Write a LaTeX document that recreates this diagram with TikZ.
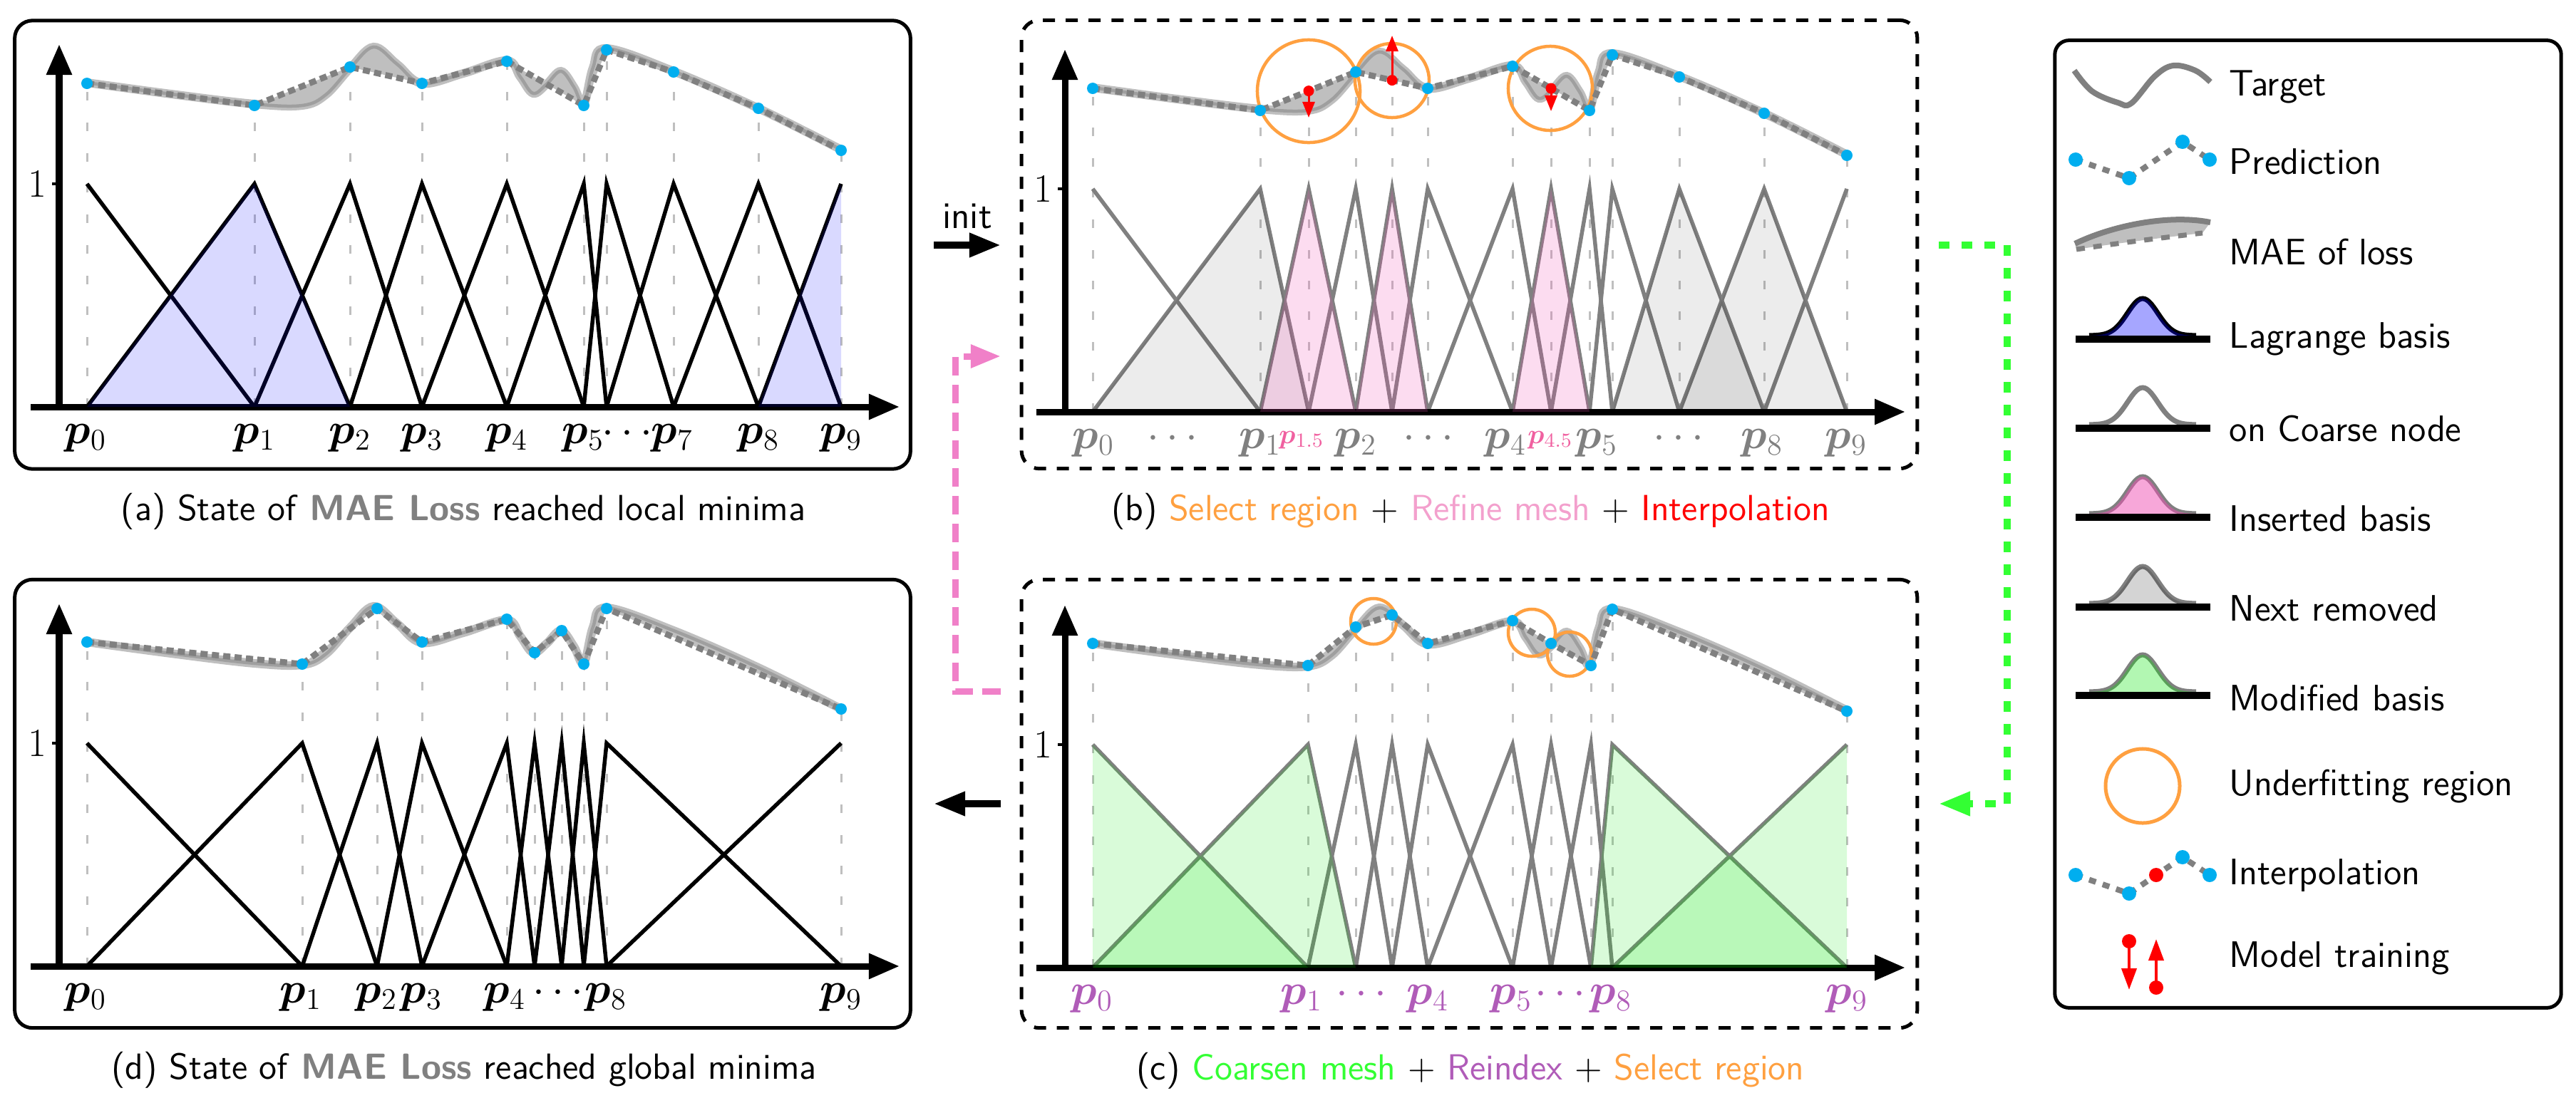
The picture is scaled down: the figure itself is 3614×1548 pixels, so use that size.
\documentclass[tikz,border=0pt]{standalone}
\usepackage{fontspec}
\usepackage{bm}
\usetikzlibrary{arrows.meta}
\definecolor{dotblue}{RGB}{0,174,239}
\definecolor{uorange}{RGB}{255,160,64}
\definecolor{rpink}{RGB}{243,160,205}
\definecolor{lpink}{RGB}{240,96,160}
\definecolor{ugreen}{RGB}{51,255,51}
\definecolor{upurple}{RGB}{176,92,184}
\definecolor{apink}{RGB}{240,128,200}
\definecolor{fpink}{RGB}{240,80,180}
\definecolor{fgreen}{RGB}{0,230,0}
\newcommand{\tgtpath}{plot[smooth,tension=0.6] coordinates {(122,116) (240,132) (357,146) (424,148) (457,133) (491,96) (524,66) (557,90) (592,117) (650,103) (711,85) (730,108) (748,131) (767,118) (787,100) (805,122) (819,146) (832,95) (851,68) (945,100) (1064,152) (1180,210)}}
\newcommand{\legbump}[1]{plot[domain=-75:75,samples=51] ({3006+\x},{#1-52*exp(-1*(\x/30)*(\x/30))})}
\newcommand{\paneaxes}[1]{%
  \draw[axisline] (43,571) -- (1262,571);
  \draw[axisline] (83,575) -- (83,62);
  \draw[line width=0.04cm] (73,258) -- (83,258);
  \node[font=\fontsize{16}{19}\selectfont, inner sep=0pt] (#1one) at (52,258) {1};
}
\tikzset{
  pbox/.style={draw=black, line width=0.05cm, rounded corners=0.25cm, minimum width=12.56cm, minimum height=6.29cm, inner sep=0pt},
  dbox/.style={pbox, dash pattern=on 0.17cm off 0.15cm},
  axisline/.style={line width=0.09cm, -{Triangle[length=0.43cm,width=0.34cm]}},
  vguide/.style={gray!50, line width=0.03cm, dash pattern=on 0.12cm off 0.31cm},
  tgthalo/.style={gray!50, line width=0.12cm},
  tgtcore/.style={gray!75, line width=0.045cm},
  band/.style={gray!50},
  pred/.style={gray, line width=0.085cm, dash pattern=on 0.1cm off 0.06cm},
  hatA/.style={black, line width=0.055cm},
  hatG/.style={gray, line width=0.055cm},
  train/.style={red, line width=0.03cm, -{Triangle[length=0.22cm,width=0.17cm]}},
  region/.style={uorange, line width=0.045cm},
  plabel/.style={anchor=base, inner sep=0pt, font=\fontsize{16.5}{20}\selectfont},
  captext/.style={anchor=base, inner sep=0pt, font=\sffamily\fontsize{14.5}{17}\selectfont},
  legtext/.style={anchor=base west, inner sep=0pt, font=\sffamily\fontsize{14.7}{18}\selectfont},
  flow/.style={line width=0.1cm, -{Triangle[length=0.44cm,width=0.32cm]}},
}
\begin{document}
\begin{tikzpicture}[x=0.01cm, y=-0.01cm]
\useasboundingbox (0,0) rectangle (3614,1548);

% ================= panel boxes =================
\node[pbox] (boxA) at (649,343.5) {};
\node[dbox] (boxB) at (2061.5,343) {};
\node[dbox] (boxC) at (2061.5,1128) {};
\node[pbox] (boxD) at (649,1128) {};
\node[pbox, minimum width=7.10cm, minimum height=13.57cm, rounded corners=0.2cm] (legend) at (3238,735.5) {};

% ================= panel (a) =================
\begin{scope}
  \foreach \x/\y in {122/117,357/148,491/94,592/117,711/86,819/148,851/70,945/101,1064/152,1180/211}
    {\draw[vguide] (\x,571) -- (\x,\y);}
  \fill[band] \tgtpath -- (1180,211) -- (1064,152) -- (945,101) -- (851,70) -- (819,148) -- (711,86) -- (592,117) -- (491,94) -- (357,148) -- (122,117) -- cycle;
  \draw[tgthalo] \tgtpath;
  \draw[tgtcore] \tgtpath;
  \draw[pred] (122,117) -- (357,148) -- (491,94) -- (592,117) -- (711,86) -- (819,148) -- (851,70) -- (945,101) -- (1064,152) -- (1180,211);
  \foreach \x/\y in {122/117,357/148,491/94,592/117,711/86,819/148,851/70,945/101,1064/152,1180/211}
    {\fill[dotblue] (\x,\y) circle[radius=0.08cm];}
  \foreach \l/\c/\r in {122/357/491,357/491/592,491/592/711,592/711/819,711/819/851,819/851/945,851/945/1064,945/1064/1180}
    {\draw[hatA] (\l,571) -- (\c,258) -- (\r,571);}
  \draw[hatA] (122,258) -- (357,571);
  \draw[hatA] (1064,571) -- (1180,258);
  \paneaxes{a}
  \fill[blue, opacity=0.15] (122,571) -- (357,258) -- (491,571) -- cycle;
  \fill[blue, opacity=0.15] (1064,571) -- (1180,258) -- (1180,571) -- cycle;
  \node[plabel] (a0) at (120,622) {$\bm{p}_0$};
  \node[plabel] (a1) at (357,622) {$\bm{p}_1$};
  \node[plabel] (a2) at (491,622) {$\bm{p}_2$};
  \node[plabel] (a3) at (592,622) {$\bm{p}_3$};
  \node[plabel] (a4) at (711,622) {$\bm{p}_4$};
  \node[plabel] (a5) at (818,622) {$\bm{p}_5$};
  \node[plabel] (adots) at (880,622) {$\cdots$};
  \node[plabel] (a7) at (943,622) {$\bm{p}_7$};
  \node[plabel] (a8) at (1064,622) {$\bm{p}_8$};
  \node[plabel] (a9) at (1180,622) {$\bm{p}_9$};
\end{scope}

% ================= panel (b) =================
\begin{scope}[shift={(1411,7)}]
  \foreach \x/\y in {122/117,357/148,425/120.6,491/94,542/105.6,592/117,711/86,765/117,819/148,851/70,945/101,1064/152,1180/211}
    {\draw[vguide] (\x,571) -- (\x,\y);}
  \fill[band] \tgtpath -- (1180,211) -- (1064,152) -- (945,101) -- (851,70) -- (819,148) -- (711,86) -- (592,117) -- (491,94) -- (357,148) -- (122,117) -- cycle;
  \draw[tgthalo] \tgtpath;
  \draw[tgtcore] \tgtpath;
  \draw[region] (425,121) circle[radius=0.72cm];
  \draw[region] (542,106) circle[radius=0.52cm];
  \draw[region] (764,117) circle[radius=0.59cm];
  \draw[pred] (122,117) -- (357,148) -- (491,94) -- (592,117) -- (711,86) -- (819,148) -- (851,70) -- (945,101) -- (1064,152) -- (1180,211);
  \foreach \x/\y in {122/117,357/148,491/94,592/117,711/86,819/148,851/70,945/101,1064/152,1180/211}
    {\fill[dotblue] (\x,\y) circle[radius=0.08cm];}
  \draw[train] (425,120.6) -- (425,158);
  \draw[train] (542,105.6) -- (542,43);
  \draw[train] (765,117) -- (765,149);
  \foreach \x/\y in {425/120.6,542/105.6,765/117}
    {\fill[red] (\x,\y) circle[radius=0.075cm];}
  \foreach \l/\c/\r in {122/357/425,357/425/491,425/491/542,491/542/592,542/592/711,592/711/765,711/765/819,765/819/851,819/851/945,851/945/1064,945/1064/1180}
    {\draw[hatG] (\l,571) -- (\c,258) -- (\r,571);}
  \draw[hatG] (122,258) -- (357,571);
  \draw[hatG] (1064,571) -- (1180,258);
  \paneaxes{b}
  \fill[black, opacity=0.075] (122,571) -- (357,258) -- (425,571) -- cycle;
  \fill[black, opacity=0.075] (851,571) -- (945,258) -- (1064,571) -- cycle;
  \fill[black, opacity=0.075] (945,571) -- (1064,258) -- (1180,571) -- cycle;
  \fill[fpink, opacity=0.2] (357,571) -- (425,258) -- (491,571) -- cycle;
  \fill[fpink, opacity=0.2] (491,571) -- (542,258) -- (592,571) -- cycle;
  \fill[fpink, opacity=0.2] (711,571) -- (765,258) -- (819,571) -- cycle;
  \begin{scope}[every node/.style={plabel, text=gray}]
    \node (b0) at (123,622) {$\bm{p}_0$};
    \node (bd1) at (234,622) {$\cdots$};
    \node (b1) at (357,622) {$\bm{p}_1$};
    \node (b2) at (491,622) {$\bm{p}_2$};
    \node (bd2) at (593,622) {$\cdots$};
    \node (b4) at (701,622) {$\bm{p}_4$};
    \node (b5) at (829,622) {$\bm{p}_5$};
    \node (bd3) at (944,622) {$\cdots$};
    \node (b8) at (1061,622) {$\bm{p}_8$};
    \node (b9) at (1179,622) {$\bm{p}_9$};
  \end{scope}
  \node[plabel, font=\fontsize{11}{13}\selectfont, text=lpink] (b15) at (415,615) {$\bm{p}_{1.5}$};
  \node[plabel, font=\fontsize{11}{13}\selectfont, text=lpink] (b45) at (764,615) {$\bm{p}_{4.5}$};
\end{scope}

% ================= panel (c) =================
\begin{scope}[shift={(1411,787)}]
  \foreach \x/\y in {122/116,424/147,491/93,542/76,592/116,711/84,765/116,821/147,851/68,1180/211}
    {\draw[vguide] (\x,571) -- (\x,\y);}
  \fill[band] \tgtpath -- (1180,211) -- (851,68) -- (821,147) -- (765,116) -- (711,84) -- (592,116) -- (542,76) -- (491,93) -- (424,147) -- (122,116) -- cycle;
  \draw[tgthalo] \tgtpath;
  \draw[tgtcore] \tgtpath;
  \draw[region] (516,85) circle[radius=0.32cm];
  \draw[region] (738,101) circle[radius=0.33cm];
  \draw[region] (791,131) circle[radius=0.31cm];
  \draw[pred] (122,116) -- (424,147) -- (491,93) -- (542,76) -- (592,116) -- (711,84) -- (765,116) -- (821,147) -- (851,68) -- (1180,211);
  \foreach \x/\y in {122/116,424/147,491/93,542/76,592/116,711/84,765/116,821/147,851/68,1180/211}
    {\fill[dotblue] (\x,\y) circle[radius=0.08cm];}
  \foreach \l/\c/\r in {122/424/491,424/491/542,491/542/592,542/592/711,592/711/765,711/765/821,765/821/851,821/851/1180}
    {\draw[hatG] (\l,571) -- (\c,258) -- (\r,571);}
  \draw[hatG] (122,258) -- (424,571);
  \draw[hatG] (851,571) -- (1180,258);
  \paneaxes{c}
  \fill[fgreen, opacity=0.15] (122,571) -- (122,258) -- (424,571) -- cycle;
  \fill[fgreen, opacity=0.15] (122,571) -- (424,258) -- (491,571) -- cycle;
  \fill[fgreen, opacity=0.15] (821,571) -- (851,258) -- (1180,571) -- cycle;
  \fill[fgreen, opacity=0.15] (851,571) -- (1180,258) -- (1180,571) -- cycle;
  \begin{scope}[every node/.style={plabel, text=upurple}]
    \node (c0) at (121,622) {$\bm{p}_0$};
    \node (c1) at (415,622) {$\bm{p}_1$};
    \node (cd1) at (499,622) {$\cdots$};
    \node (c4) at (592,622) {$\bm{p}_4$};
    \node (c5) at (709,622) {$\bm{p}_5$};
    \node (cd2) at (778,622) {$\cdots$};
    \node (c8) at (849,622) {$\bm{p}_8$};
    \node (c9) at (1180,622) {$\bm{p}_9$};
  \end{scope}
\end{scope}

% ================= panel (d) =================
\begin{scope}[shift={(0,785)}]
  \foreach \x/\y in {122/116,424/147,529/69,592/116,711/84,750/131,788/100,819/147,851/69,1180/210}
    {\draw[vguide] (\x,571) -- (\x,\y);}
  \fill[band] \tgtpath -- (1180,210) -- (851,69) -- (819,147) -- (788,100) -- (750,131) -- (711,84) -- (592,116) -- (529,69) -- (424,147) -- (122,116) -- cycle;
  \draw[tgthalo] \tgtpath;
  \draw[tgtcore] \tgtpath;
  \draw[pred] (122,116) -- (424,147) -- (529,69) -- (592,116) -- (711,84) -- (750,131) -- (788,100) -- (819,147) -- (851,69) -- (1180,210);
  \foreach \x/\y in {122/116,424/147,529/69,592/116,711/84,750/131,788/100,819/147,851/69,1180/210}
    {\fill[dotblue] (\x,\y) circle[radius=0.08cm];}
  \foreach \l/\c/\r in {122/424/529,424/529/592,529/592/711,592/711/750,711/750/788,750/788/819,788/819/851,819/851/1180}
    {\draw[hatA] (\l,571) -- (\c,258) -- (\r,571);}
  \draw[hatA] (122,258) -- (424,571);
  \draw[hatA] (851,571) -- (1180,258);
  \paneaxes{d}
  \node[plabel] (d0) at (120,622) {$\bm{p}_0$};
  \node[plabel] (d1) at (422,622) {$\bm{p}_1$};
  \node[plabel] (d2) at (528,622) {$\bm{p}_2$};
  \node[plabel] (d3) at (591,622) {$\bm{p}_3$};
  \node[plabel] (d4) at (708,622) {$\bm{p}_4$};
  \node[plabel] (dd) at (783,622) {$\cdots$};
  \node[plabel] (d8) at (850,622) {$\bm{p}_8$};
  \node[plabel] (d9) at (1180,622) {$\bm{p}_9$};
\end{scope}

% ================= captions =================
\node[captext] (capA) at (650,730) {(a) State of \textbf{\textcolor{gray}{MAE Loss}} reached local minima};
\node[captext] (capB) at (2063,730) {(b) \textcolor{uorange}{Select region} $+$ \textcolor{rpink}{Refine mesh} $+$ \textcolor{red}{Interpolation}};
\node[captext] (capC) at (2063,1515) {(c) \textcolor{ugreen}{Coarsen mesh} $+$ \textcolor{upurple}{Reindex} $+$ \textcolor{uorange}{Select region}};
\node[captext] (capD) at (651,1514) {(d) State of \textbf{\textcolor{gray}{MAE Loss}} reached global minima};

% ================= connectors =================
\coordinate (initS) at (1310,344);
\coordinate (initE) at (1404,344);
\draw[flow] (initS) -- (initE);
\node[font=\sffamily\fontsize{15}{18}\selectfont, anchor=base, inner sep=0pt] (initlbl) at (1357,320) {init};
\coordinate (backS) at (1404,1128);
\coordinate (backE) at (1310,1128);
\draw[flow] (backS) -- (backE);
\coordinate (gS) at (2720,344);
\coordinate (gE) at (2720,1128);
\draw[ugreen, line width=0.1cm, dash pattern=on 0.15cm off 0.17cm, -{Triangle[length=0.44cm,width=0.32cm]}] (gS) -- (2816,344) -- (2816,1128) -- (gE);
\coordinate (pS) at (1404,970);
\coordinate (pE) at (1404,500);
\draw[apink, line width=0.09cm, dash pattern=on 0.26cm off 0.13cm, -{Triangle[length=0.42cm,width=0.31cm]}] (pS) -- (1340,970) -- (1340,500) -- (pE);

% ================= legend =================
\draw[gray, line width=0.08cm] plot[smooth, tension=0.6] coordinates {(2910,99) (2935,128) (2971,144) (2990,145) (3023,107) (3049,92) (3080,99) (3101,115)};
\node[legtext] (lt1) at (3127,134) {Target};
\draw[gray, line width=0.08cm, dash pattern=on 0.1cm off 0.1cm] (2912,224) -- (2987,250) -- (3062,199) -- (3100,224);
\foreach \x/\y in {2912/224,2987/250,3062/199,3100/224} {\fill[dotblue] (\x,\y) circle[radius=0.1cm];}
\node[legtext] (lt2) at (3127,244) {Prediction};
\fill[gray!50] (2911,342) .. controls (2960,318) and (3040,300) .. (3101,312) -- (3090,327) .. controls (3040,333) and (2980,340) .. (2913,350) -- cycle;
\draw[gray, line width=0.08cm] (2911,342) .. controls (2960,318) and (3040,300) .. (3101,312);
\draw[gray, line width=0.07cm, dash pattern=on 0.12cm off 0.12cm] (2913,350) .. controls (2980,340) and (3040,333) .. (3090,327);
\node[legtext] (lt3) at (3127,371) {MAE of loss};
\draw[black, line width=0.07cm] \legbump{471};
\fill[blue, opacity=0.35] \legbump{471} -- cycle;
\draw[black, line width=0.1cm] (2912,476) -- (3101,476);
\node[legtext] (lt4) at (3127,488) {Lagrange basis};
\draw[gray, line width=0.07cm] \legbump{596};
\draw[black, line width=0.1cm] (2912,601) -- (3101,601);
\node[legtext] (lt5) at (3127,619) {on Coarse node};
\draw[gray, line width=0.07cm] \legbump{721};
\fill[fpink, opacity=0.5] \legbump{721} -- cycle;
\draw[black, line width=0.1cm] (2912,726) -- (3101,726);
\node[legtext] (lt6) at (3127,745) {Inserted basis};
\draw[gray, line width=0.07cm] \legbump{847};
\fill[black, opacity=0.17] \legbump{847} -- cycle;
\draw[black, line width=0.1cm] (2912,852) -- (3101,852);
\node[legtext] (lt7) at (3127,871) {Next removed};
\draw[gray, line width=0.07cm] \legbump{971};
\fill[fgreen, opacity=0.3] \legbump{971} -- cycle;
\draw[black, line width=0.1cm] (2912,976) -- (3101,976);
\node[legtext] (lt8) at (3127,997) {Modified basis};
\draw[uorange, line width=0.05cm] (3006,1103) circle[radius=0.52cm];
\node[legtext] (lt9) at (3127,1116) {Underfitting region};
\draw[gray, line width=0.08cm, dash pattern=on 0.1cm off 0.1cm] (2912,1228) -- (2987,1254) -- (3062,1203) -- (3100,1228);
\foreach \x/\y in {2912/1228,2987/1254,3062/1203,3100/1228} {\fill[dotblue] (\x,\y) circle[radius=0.1cm];}
\fill[red] (3025,1228) circle[radius=0.1cm];
\node[legtext] (lt10) at (3127,1241) {Interpolation};
\draw[red, line width=0.04cm, -{Triangle[length=0.3cm,width=0.21cm]}] (2987,1321) -- (2987,1389);
\fill[red] (2987,1321) circle[radius=0.1cm];
\draw[red, line width=0.04cm, -{Triangle[length=0.3cm,width=0.21cm]}] (3025,1386) -- (3025,1318);
\fill[red] (3025,1386) circle[radius=0.1cm];
\node[legtext] (lt11) at (3127,1357) {Model training};
\end{tikzpicture}
\end{document}
